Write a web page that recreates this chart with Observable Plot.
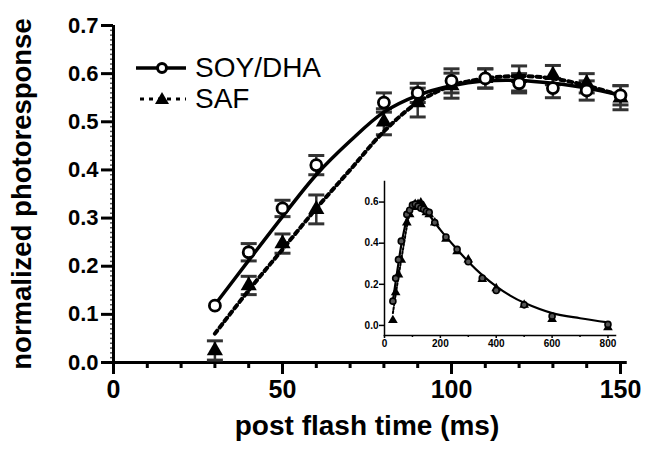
<!DOCTYPE html>
<html>
<head>
<meta charset="utf-8">
<script src="https://cdn.jsdelivr.net/npm/d3@7"></script>
<script src="https://cdn.jsdelivr.net/npm/@observablehq/plot@0.6"></script>
<style>
  body { margin: 0; background: #fff; }
  #wrap { position: relative; width: 662px; height: 453px; font-family: "Liberation Sans", Arial, sans-serif; }
  #wrap svg { position: absolute; background: transparent; }
  #legend { position: absolute; left: 134px; top: 52px; font-size: 28px; color: #000; line-height: 30px; }
  #legend div { display: flex; align-items: center; height: 31px; }
  #legend svg { position: static; margin-right: 7px; }
</style>
</head>
<body>
<div id="wrap">
  <div id="legend">
    <div><svg width="54" height="20"><line x1="2" y1="10" x2="52" y2="10" stroke="#000" stroke-width="3.5"/><circle cx="28" cy="10" r="4.5" fill="#fff" stroke="#000" stroke-width="3"/></svg><span>SOY/DHA</span></div>
    <div><svg width="54" height="20"><line x1="6" y1="10" x2="52" y2="10" stroke="#000" stroke-width="3" stroke-dasharray="4,5"/><path d="M28,3 L35,15 L21,15 Z" fill="#000"/></svg><span>SAF</span></div>
  </div>
</div>
<script>
// ---- main panel data ----
const time = [30, 40, 50, 60, 80, 90, 100, 110, 120, 130, 140, 150];
const soyDha = [0.118, 0.229, 0.32, 0.41, 0.54, 0.56, 0.585, 0.59, 0.58, 0.57, 0.565, 0.555];
const soyDhaErr = [0, 0.018, 0.017, 0.02, 0.02, 0.02, 0.025, 0.02, 0.02, 0.02, 0.02, 0.02];
const saf = [0.025, 0.16, 0.247, 0.318, 0.50, 0.54, 0.575, 0.59, 0.59, 0.597, 0.58, 0.55];
const safErr = [0.02, 0.019, 0.02, 0.03, 0.027, 0.03, 0.026, 0.02, 0.026, 0.02, 0.02, 0.025];

// fitted curves (main panel)
const fitTime = [30, 40, 50, 60, 70, 80, 90, 100, 110, 120, 130, 140, 150];
const soyDhaFit = [0.12, 0.212, 0.303, 0.39, 0.46, 0.52, 0.555, 0.575, 0.585, 0.586, 0.58, 0.57, 0.555];
const safFit = [0.06, 0.15, 0.235, 0.32, 0.40, 0.48, 0.54, 0.575, 0.59, 0.595, 0.59, 0.575, 0.555];

// ---- inset data (full time course) ----
const insetTime = [30, 40, 50, 60, 80, 90, 100, 110, 120, 130, 140, 150, 160, 180, 220, 260, 300, 350, 400, 500, 600, 800];
const insetSoyDha = [0.118, 0.229, 0.32, 0.41, 0.54, 0.56, 0.585, 0.59, 0.58, 0.57, 0.565, 0.555, 0.55, 0.50, 0.43, 0.37, 0.31, 0.23, 0.17, 0.10, 0.045, 0.005];
const insetSaf = [0.025, 0.16, 0.247, 0.318, 0.50, 0.54, 0.575, 0.59, 0.59, 0.597, 0.58, 0.55, 0.54, 0.50, 0.42, 0.36, 0.32, 0.225, 0.18, 0.10, 0.03, -0.01];
const insetFitTime = [30, 40, 50, 60, 70, 80, 90, 100, 110, 120, 130, 140, 150, 200, 250, 300, 350, 400, 450, 500, 600, 700, 800];
const insetSoyDhaFit = [0.12, 0.212, 0.303, 0.39, 0.46, 0.52, 0.555, 0.575, 0.585, 0.586, 0.58, 0.57, 0.555, 0.465, 0.385, 0.31, 0.245, 0.19, 0.145, 0.11, 0.06, 0.035, 0.015];
const insetSafFit = [0.06, 0.15, 0.235, 0.32, 0.40, 0.48, 0.54, 0.575, 0.59, 0.595, 0.59, 0.575, 0.555];

// tick values
const yTicks = [0, 0.1, 0.2, 0.3, 0.4, 0.5, 0.6, 0.7];
const xTicks = [0, 50, 100, 150];
const xMinor = [10, 20, 30, 40, 60, 70, 80, 90, 110, 120, 130, 140];
const insetYTicks = [0, 0.2, 0.4, 0.6];
const insetXTicks = [0, 200, 400, 600, 800];
const insetXMinor = [100, 300, 500, 700];

const seriesA = time.map((t, i) => ({t, v: soyDha[i], e: soyDhaErr[i]}));
const seriesB = time.map((t, i) => ({t, v: saf[i], e: safErr[i]}));
const fitA = fitTime.map((t, i) => ({t, v: soyDhaFit[i]}));
const fitB = fitTime.map((t, i) => ({t, v: safFit[i]}));

const capSymbol = {draw(ctx, size) { const w = 8; ctx.moveTo(-w, 0); ctx.lineTo(w, 0); }};
const errEnds = (s) => s.filter(d => d.e > 0).flatMap(d => [{t: d.t, v: d.v + d.e}, {t: d.t, v: d.v - d.e}]);

const font = "'Liberation Sans', Arial, sans-serif";

const main = Plot.plot({
  width: 662, height: 453,
  marginLeft: 113, marginRight: 42, marginTop: 25, marginBottom: 91,
  x: {domain: [0, 150]},
  y: {domain: [0, 0.7]},
  style: {fontFamily: font, color: "#000", background: "transparent", overflow: "visible"},
  marks: [
    // y minor ticks (hatched look)
    Plot.axisY(d3.range(0, 0.7001, 0.01), {tickSize: 3, tickFormat: null, text: null, stroke: "#555", strokeWidth: 1.5, label: null}),
    Plot.axisY(yTicks, {tickSize: 12, tickPadding: 3, tickFormat: d3.format(".1f"), fontSize: 22, fontWeight: "bold", strokeWidth: 3, label: null}),
    Plot.axisX(xMinor, {tickSize: 6, tickFormat: null, text: null, strokeWidth: 3, label: null}),
    Plot.axisX(xTicks, {tickSize: 12, tickPadding: 6, fontSize: 25, fontWeight: "bold", strokeWidth: 3, label: null}),
    Plot.ruleX([0], {y1: 0, y2: 0.7, strokeWidth: 3}),
    Plot.ruleY([0], {x1: 0, x2: 152, strokeWidth: 3}),
    Plot.text(["normalized photoresponse"], {frameAnchor: "left", dx: -91, rotate: -90, textAnchor: "middle", fontSize: 27.5, fontWeight: "bold", fill: "#000"}),
    Plot.text(["post flash time (ms)"], {frameAnchor: "bottom", dy: 72, dx: 0, fontSize: 28, fontWeight: "bold", fill: "#000"}),
    // error bars
    Plot.ruleX(seriesA.filter(d => d.e > 0), {x: "t", y1: d => d.v - d.e, y2: d => d.v + d.e, stroke: "#333", strokeWidth: 2.5}),
    Plot.ruleX(seriesB, {x: "t", y1: d => d.v - d.e, y2: d => d.v + d.e, stroke: "#333", strokeWidth: 2.5}),
    Plot.dot(errEnds(seriesA), {x: "t", y: "v", symbol: capSymbol, stroke: "#333", strokeWidth: 3, r: 5}),
    Plot.dot(errEnds(seriesB), {x: "t", y: "v", symbol: capSymbol, stroke: "#333", strokeWidth: 3, r: 5}),
    // fits
    Plot.line(fitB, {x: "t", y: "v", curve: "catmull-rom", stroke: "#000", strokeWidth: 4, strokeDasharray: "4,4"}),
    Plot.line(fitA, {x: "t", y: "v", curve: "catmull-rom", stroke: "#000", strokeWidth: 3.5}),
    // markers
    Plot.dot(seriesB, {x: "t", y: "v", symbol: "triangle", r: 6, fill: "#000"}),
    Plot.dot(seriesA, {x: "t", y: "v", symbol: "circle", r: 5.5, fill: "#fff", stroke: "#000", strokeWidth: 2.8})
  ]
});
main.style.left = "0px"; main.style.top = "0px";

const iA = insetTime.map((t, i) => ({t, v: insetSoyDha[i]}));
const iB = insetTime.map((t, i) => ({t, v: insetSaf[i]}));
const iFitA = insetFitTime.map((t, i) => ({t, v: insetSoyDhaFit[i]}));
const iFitB = insetSafFit.map((v, i) => ({t: insetFitTime[i], v}));

const inset = Plot.plot({
  width: 275, height: 185,
  marginLeft: 34, marginRight: 10, marginTop: 11, marginBottom: 20,
  x: {domain: [0, 827]},
  y: {domain: [-0.049, 0.70]},
  style: {fontFamily: font, color: "#000", background: "transparent", overflow: "visible"},
  marks: [
    Plot.axisY(insetYTicks, {tickSize: 5, tickPadding: 1, tickFormat: d3.format(".1f"), fontSize: 10, fontWeight: "bold", strokeWidth: 1.5, label: null}),
    Plot.axisX(insetXMinor, {tickSize: 2, tickFormat: null, text: null, strokeWidth: 1.5, label: null}),
    Plot.axisX(insetXTicks, {tickSize: 3, tickPadding: 1, fontSize: 10, fontWeight: "bold", strokeWidth: 1.5, label: null}),
    Plot.frame({anchor: "left", strokeWidth: 1.5}),
    Plot.frame({anchor: "bottom", strokeWidth: 1.5}),
    Plot.line(iFitB, {x: "t", y: "v", curve: "catmull-rom", stroke: "#000", strokeWidth: 2, strokeDasharray: "2,2"}),
    Plot.line(iFitA, {x: "t", y: "v", curve: "catmull-rom", stroke: "#000", strokeWidth: 2.2}),
    Plot.dot(iB, {x: "t", y: "v", symbol: "triangle", r: 3.6, fill: "#000"}),
    Plot.dot(iA, {x: "t", y: "v", symbol: "circle", r: 3, fill: "#555", stroke: "#000", strokeWidth: 1.6})
  ]
});
inset.style.left = "350px"; inset.style.top = "170px";

const wrap = document.getElementById("wrap");
wrap.insertBefore(main, wrap.firstChild);
wrap.appendChild(inset);
</script>
</body>
</html>
